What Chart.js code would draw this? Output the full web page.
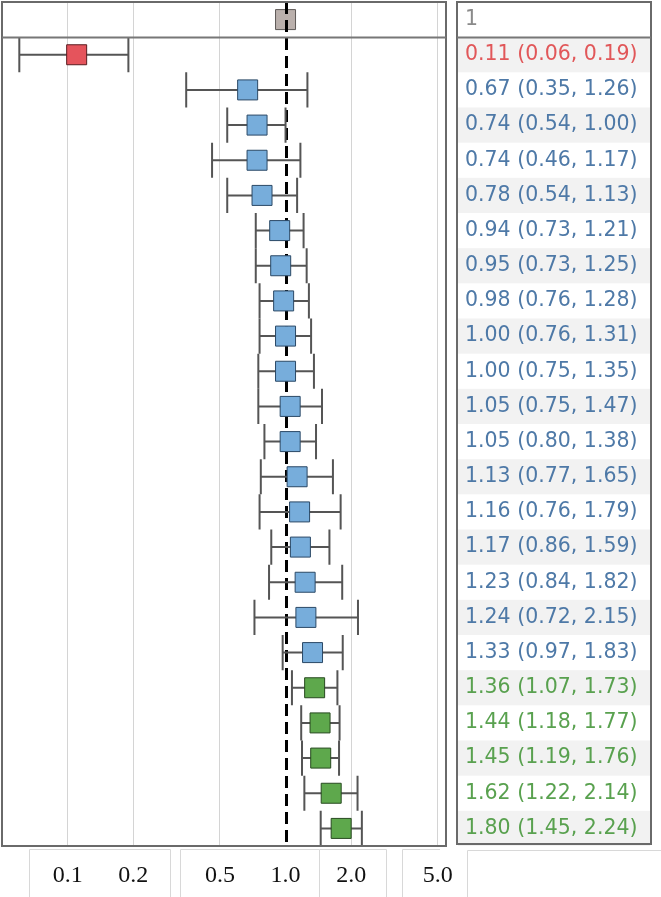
<!DOCTYPE html>
<html>
<head>
<meta charset="utf-8">
<script src="https://cdn.jsdelivr.net/npm/chart.js@4.4.1/dist/chart.umd.min.js"></script>
<style>
  html, body { margin: 0; padding: 0; background: #ffffff; }
  #wrap { width: 661px; height: 897px; }
</style>
</head>
<body>
<div id="wrap"><canvas id="forest" width="661" height="897"></canvas></div>
<script>
// Reference row shown in the header band
const headerLabel = '1';
const headerEstimate = 1.0;

// Point estimates with 95% confidence limits, one entry per row (top to bottom)
const estimates = [0.11, 0.67, 0.74, 0.74, 0.78, 0.94, 0.95, 0.98, 1.00, 1.00, 1.05, 1.05,
                   1.13, 1.16, 1.17, 1.23, 1.24, 1.33, 1.36, 1.44, 1.45, 1.62, 1.80];
const lowerCI   = [0.06, 0.35, 0.54, 0.46, 0.54, 0.73, 0.73, 0.76, 0.76, 0.75, 0.75, 0.80,
                   0.77, 0.76, 0.86, 0.84, 0.72, 0.97, 1.07, 1.18, 1.19, 1.22, 1.45];
const upperCI   = [0.19, 1.26, 1.00, 1.17, 1.13, 1.21, 1.25, 1.28, 1.31, 1.35, 1.47, 1.38,
                   1.65, 1.79, 1.59, 1.82, 2.15, 1.83, 1.73, 1.77, 1.76, 2.14, 2.24];
// Significance group of each row
const tiers     = ['low',
                   'mid', 'mid', 'mid', 'mid', 'mid', 'mid', 'mid', 'mid', 'mid',
                   'mid', 'mid', 'mid', 'mid', 'mid', 'mid', 'mid', 'mid',
                   'high', 'high', 'high', 'high', 'high'];

// Axis ticks on the log scale
const xTickValues = [0.1, 0.2, 0.5, 1.0, 2.0, 5.0];

const tierStyle = {
  header: { fill: '#bab0ac', edge: '#5e5957', text: '#8a8a8a' },
  low:    { fill: '#e5545c', edge: '#5a1d20', text: '#e15759' },
  mid:    { fill: '#77addb', edge: '#2b4966', text: '#4e79a7' },
  high:   { fill: '#5ea84c', edge: '#284a20', text: '#59a14f' }
};

const rowCount = estimates.length;
const rowValues = Array.from({ length: rowCount + 1 }, (_, i) => i); // 0 = header
const fmt = v => v.toFixed(2);
const rowText = v => v === 0 ? headerLabel
  : `${fmt(estimates[v - 1])} (${fmt(lowerCI[v - 1])}, ${fmt(upperCI[v - 1])})`;
const rowTier = v => v === 0 ? 'header' : tiers[v - 1];

function tierDataset(name) {
  const pts = [];
  estimates.forEach((e, i) => { if (tiers[i] === name) pts.push({ x: e, y: i + 1 }); });
  return pts;
}

const datasets = [
  { label: 'header', data: [{ x: headerEstimate, y: 0 }] },
  { label: 'low', data: tierDataset('low') },
  { label: 'mid', data: tierDataset('mid') },
  { label: 'high', data: tierDataset('high') }
].map(d => ({
  ...d,
  pointStyle: 'rect',
  pointRadius: 14.14,
  pointHoverRadius: 14.14,
  backgroundColor: tierStyle[d.label].fill,
  borderColor: tierStyle[d.label].edge,
  borderWidth: 1,
  clip: false
}));

function drawReferenceLine(chart) {
  const { ctx, chartArea, scales } = chart;
  const x = Math.round(scales.x.getPixelForValue(1)) + 0.5;
  ctx.save();
  ctx.strokeStyle = '#000000';
  ctx.lineWidth = 3;
  ctx.setLineDash([12, 6]);
  ctx.beginPath();
  ctx.moveTo(x, chartArea.top);
  ctx.lineTo(x, chartArea.bottom);
  ctx.stroke();
  ctx.restore();
}

const forestPlugin = {
  id: 'forestDecor',
  beforeDraw(chart) {
    const { ctx, scales } = chart;
    const y = scales.y;
    // banded rows of the estimate table
    ctx.save();
    ctx.fillStyle = '#f2f2f2';
    for (let v = 1; v <= rowCount; v += 2) {
      const y0 = y.getPixelForValue(v - 0.5);
      const y1 = y.getPixelForValue(v + 0.5);
      ctx.fillRect(458, y0, 192, y1 - y0);
    }
    ctx.restore();
  },
  beforeDatasetsDraw(chart) {
    const { ctx, scales } = chart;
    const xs = scales.x, ys = scales.y;
    const half = (ys.getPixelForValue(1) - ys.getPixelForValue(0)) / 2;
    drawReferenceLine(chart);
    // confidence interval whiskers
    ctx.save();
    ctx.strokeStyle = '#555555';
    ctx.lineWidth = 2;
    ctx.setLineDash([]);
    for (let i = 0; i < rowCount; i++) {
      const yc = ys.getPixelForValue(i + 1);
      const xl = xs.getPixelForValue(lowerCI[i]);
      const xh = xs.getPixelForValue(upperCI[i]);
      ctx.beginPath();
      ctx.moveTo(xl, yc); ctx.lineTo(xh, yc);
      ctx.moveTo(xl, yc - half); ctx.lineTo(xl, yc + half);
      ctx.moveTo(xh, yc - half); ctx.lineTo(xh, yc + half);
      ctx.stroke();
    }
    ctx.restore();
  },
  afterDatasetsDraw(chart) {
    // the reference line stays on top of the header marker
    const { ctx, chartArea, scales } = chart;
    const yDiv = scales.y.getPixelForValue(0.5);
    ctx.save();
    ctx.beginPath();
    ctx.rect(chartArea.left, chartArea.top, chartArea.right - chartArea.left, yDiv - chartArea.top);
    ctx.clip();
    drawReferenceLine(chart);
    ctx.restore();
  },
  afterDraw(chart) {
    const { ctx, chartArea, scales } = chart;
    const yDiv = Math.round(scales.y.getPixelForValue(0.5)) + 0.5;
    ctx.save();
    ctx.setLineDash([]);
    // plot frame and table frame
    ctx.strokeStyle = '#6a6a6a';
    ctx.lineWidth = 2;
    ctx.strokeRect(2, 2, chartArea.right - 2, chartArea.bottom - 2);
    ctx.strokeRect(457, 2, 194, 842);
    ctx.lineWidth = 2;
    ctx.strokeStyle = '#777777';
    ctx.beginPath();
    ctx.moveTo(2, yDiv); ctx.lineTo(chartArea.right, yDiv);
    ctx.moveTo(457, yDiv); ctx.lineTo(651, yDiv);
    ctx.stroke();
    // light cells around the axis labels
    ctx.strokeStyle = '#d8d8d8';
    ctx.lineWidth = 1;
    ctx.beginPath();
    ctx.moveTo(29.5, 897); ctx.lineTo(29.5, 849.5); ctx.lineTo(170.5, 849.5); ctx.lineTo(170.5, 897);
    ctx.moveTo(180.5, 897); ctx.lineTo(180.5, 849.5); ctx.lineTo(319.5, 849.5);
    ctx.moveTo(319.5, 897); ctx.lineTo(319.5, 849.5); ctx.lineTo(386.5, 849.5); ctx.lineTo(386.5, 897);
    ctx.moveTo(402.5, 897); ctx.lineTo(402.5, 849.5); ctx.lineTo(440, 849.5);
    ctx.moveTo(467.5, 897); ctx.lineTo(467.5, 850.5); ctx.lineTo(661, 850.5);
    ctx.stroke();
    ctx.restore();
  }
};

new Chart(document.getElementById('forest'), {
  type: 'scatter',
  data: { datasets },
  options: {
    responsive: false,
    devicePixelRatio: 1,
    animation: false,
    events: [],
    layout: { autoPadding: false, padding: { left: 3, top: 2, right: 0, bottom: 0 } },
    plugins: { legend: { display: false }, tooltip: { enabled: false } },
    scales: {
      x: {
        type: 'logarithmic',
        position: 'bottom',
        min: 0.0505,
        max: 5.45,
        afterBuildTicks: s => { s.ticks = xTickValues.map(v => ({ value: v })); },
        afterFit: s => { s.height = 51; s.paddingLeft = 0; s.paddingRight = 0; },
        ticks: {
          autoSkip: false,
          maxRotation: 0,
          padding: 15,
          color: '#111111',
          font: { family: '"Liberation Serif", "Times New Roman", serif', size: 24 },
          callback: v => Number(v).toFixed(1)
        },
        grid: {
          drawTicks: false,
          lineWidth: 1,
          color: c => (c.tick && c.tick.value === 1) ? 'rgba(0,0,0,0)' : '#d4d4d4'
        },
        border: { display: false }
      },
      y: {
        type: 'linear',
        position: 'right',
        reverse: true,
        min: -0.5,
        max: rowCount + 0.5,
        afterBuildTicks: s => { s.ticks = rowValues.map(v => ({ value: v })); },
        afterFit: s => { s.width = 215; s.paddingTop = 0; s.paddingBottom = 0; },
        ticks: {
          autoSkip: false,
          padding: 19,
          crossAlign: 'near',
          font: { family: '"DejaVu Sans", Verdana, sans-serif', size: 20.5 },
          color: c => tierStyle[rowTier(c.tick.value)].text,
          callback: v => rowText(v)
        },
        grid: { display: false, drawTicks: false },
        border: { display: false }
      }
    }
  },
  plugins: [forestPlugin]
});
</script>
</body>
</html>
